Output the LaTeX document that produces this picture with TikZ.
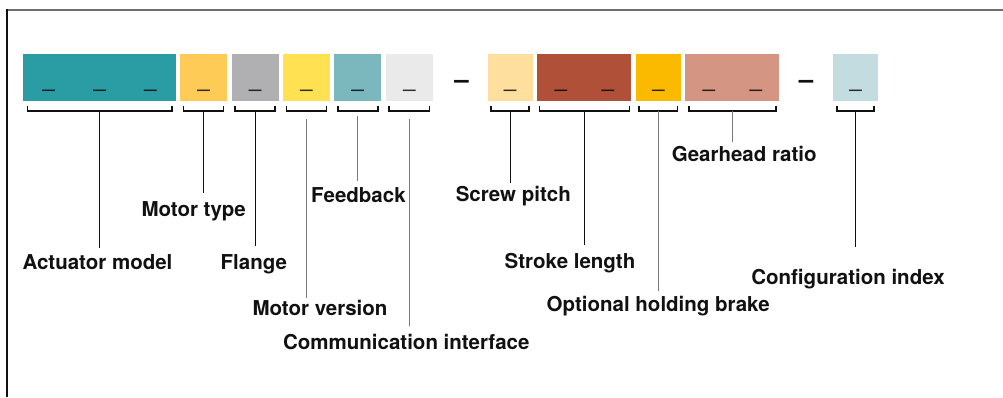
\documentclass[tikz,border=0pt]{standalone}
\usepackage{fontspec}
\setmainfont{TeX Gyre Heros}
\usetikzlibrary{calc}

\definecolor{txt}{HTML}{111111}
\definecolor{leadgray}{HTML}{7A7A7A}
\definecolor{cTeal}{HTML}{2A9CA3}
\definecolor{cMotor}{HTML}{FECB57}
\definecolor{cFlange}{HTML}{B0B0B2}
\definecolor{cVersion}{HTML}{FFE152}
\definecolor{cFeed}{HTML}{7AB8BE}
\definecolor{cComm}{HTML}{EAEAEA}
\definecolor{cScrew}{HTML}{FFDF9E}
\definecolor{cStroke}{HTML}{B05039}
\definecolor{cBrake}{HTML}{FBBA00}
\definecolor{cGear}{HTML}{D49682}
\definecolor{cConfig}{HTML}{C2DCDF}

\tikzset{
  cell/.style={anchor=north west, minimum height=47pt, inner sep=0pt, outer sep=0pt,
    text height=19pt, text depth=0pt, text=black, text opacity=0.8,
    font=\fontsize{21.5}{24}\selectfont\bfseries},
  tag/.style={anchor=base, font=\fontsize{20.5}{24}\selectfont\bfseries, text=txt,
    text height=15pt, text depth=4pt, inner sep=6pt},
  brace/.style={line width=1.6pt, draw=txt},
  lead/.style={line width=0.9pt, draw=txt},
  leadg/.style={line width=1.4pt, draw=leadgray}
}

\begin{document}
\begin{tikzpicture}[x=1pt, y=-1pt]

    \useasboundingbox (0,0) rectangle (1003,397);

    % Frame
    \draw[line width=2pt, draw=leadgray!90!black] (6,9.5) -- (1003,9.5);
    \draw[line width=2pt, draw=txt] (6.5,9) -- (6.5,397);

    % Code cells
    \node[cell, fill=cTeal, minimum width=50.8pt] (am1) at (23.3,54) {\_};
    \node[cell, fill=cTeal, minimum width=50.8pt] (am2) at (74.1,54) {\_};
    \node[cell, fill=cTeal, minimum width=50.8pt] (am3) at (124.9,54) {\_};
    \node[cell, fill=cMotor, minimum width=47pt] (mt) at (180,54) {\_};
    \node[cell, fill=cFlange, minimum width=47pt] (fl) at (231.5,54) {\_};
    \node[cell, fill=cVersion, minimum width=47pt] (mv) at (282.8,54) {\_};
    \node[cell, fill=cFeed, minimum width=47pt] (fb) at (334.2,54) {\_};
    \node[cell, fill=cComm, minimum width=47.5pt] (ci) at (385.6,54) {\_};

    \node[anchor=base, font=\fontsize{26}{30}\selectfont\bfseries, text=txt] (dashA) at (461.5,88) {\textendash};

    \node[cell, fill=cScrew, minimum width=45pt] (sp) at (487.7,54) {\_};
    \node[cell, fill=cStroke, minimum width=47pt] (sl1) at (537.3,54) {\_};
    \node[cell, fill=cStroke, minimum width=47pt] (sl2) at (584.3,54) {\_};
    \node[cell, fill=cBrake, minimum width=45.3pt] (hb) at (635.7,54) {\_};
    \node[cell, fill=cGear, minimum width=47pt] (gr1) at (685.3,54) {\_};
    \node[cell, fill=cGear, minimum width=47pt] (gr2) at (732.3,54) {\_};

    \node[anchor=base, font=\fontsize{26}{30}\selectfont\bfseries, text=txt] (dashB) at (806,88) {\textendash};

    \node[cell, fill=cConfig, minimum width=44.4pt] (cx) at (833.3,54) {\_};

    % Brackets under the cells
    \draw[brace] ($(am1.south west)+(4,5)$) |- ($(am3.south east)+(-4,9.7)$) -- ++(0,-4.7);
    \draw[brace] ($(mt.south west)+(3.5,5)$) |- ($(mt.south east)+(-3.5,9.7)$) -- ++(0,-4.7);
    \draw[brace] ($(fl.south west)+(3.5,5)$) |- ($(fl.south east)+(-3.5,9.7)$) -- ++(0,-4.7);
    \draw[brace] ($(mv.south west)+(3.5,5)$) |- ($(mv.south east)+(-3.5,9.7)$) -- ++(0,-4.7);
    \draw[brace] ($(fb.south west)+(3.5,5)$) |- ($(fb.south east)+(-3.5,9.7)$) -- ++(0,-4.7);
    \draw[brace] ($(ci.south west)+(3.5,5)$) |- ($(ci.south east)+(-3.5,9.7)$) -- ++(0,-4.7);
    \draw[brace] ($(sp.south west)+(3.5,5)$) |- ($(sp.south east)+(-3.5,9.7)$) -- ++(0,-4.7);
    \draw[brace] ($(sl1.south west)+(2,5)$) |- ($(sl2.south east)+(-2,9.7)$) -- ++(0,-4.7);
    \draw[brace] ($(hb.south west)+(3.5,5)$) |- ($(hb.south east)+(-3.5,9.7)$) -- ++(0,-4.7);
    \draw[brace] ($(gr1.south west)+(3.5,5)$) |- ($(gr2.south east)+(-3.5,9.7)$) -- ++(0,-4.7);
    \draw[brace] ($(cx.south west)+(3.5,5)$) |- ($(cx.south east)+(-3.5,9.7)$) -- ++(0,-4.7);

    \coordinate (amB) at ($(am1.south west)!0.5!(am3.south east)+(0,9.7)$);
    \coordinate (mtB) at ($(mt.south)+(0,9.7)$);
    \coordinate (flB) at ($(fl.south)+(0,9.7)$);
    \coordinate (mvB) at ($(mv.south)+(0,18.3)$);
    \coordinate (fbB) at ($(fb.south)+(0,15)$);
    \coordinate (ciB) at ($(ci.south)+(0,18.3)$);
    \coordinate (spB) at ($(sp.south)+(0,9.7)$);
    \coordinate (slB) at ($(sl1.south west)!0.5!(sl2.south east)+(0,9.7)$);
    \coordinate (hbB) at ($(hb.south)+(0,9.7)$);
    \coordinate (grB) at ($(gr1.south west)!0.5!(gr2.south east)+(0,9.7)$);
    \coordinate (cxB) at ($(cx.south)+(0,9.7)$);

    % Labels
    \node[tag] (actuator) at (97.5,269.3) {Actuator model};
    \node[tag] (motortype) at (193.7,216) {Motor type};
    \node[tag] (flange) at (253.8,269.3) {Flange};
    \node[tag] (motorver) at (320,315.3) {Motor version};
    \node[tag] (feedback) at (358.5,202.3) {Feedback};
    \node[tag] (comm) at (406.3,349) {Communication interface};
    \node[tag] (screw) at (513.3,201.7) {Screw pitch};
    \node[tag] (stroke) at (570,268.7) {Stroke length};
    \node[tag] (brake) at (658.2,311.7) {Optional holding brake};
    \node[tag] (gearhead) at (744.2,161) {Gearhead ratio};
    \node[tag] (config) at (848,284) {Configuration index};

    % Leader lines
    \draw[lead] (amB) -- (amB |- actuator.north);
    \draw[lead, shorten >=1.5pt] (mtB) -- (mtB |- motortype.north);
    \draw[lead, shorten >=2.5pt] (flB) -- (flB |- flange.north);
    \draw[leadg, shorten >=-3.5pt] (mvB) -- (mvB |- motorver.north);
    \draw[leadg] (fbB) -- (fbB |- feedback.north);
    \draw[leadg, shorten >=2pt] (ciB) -- (ciB |- comm.north);
    \draw[lead, shorten >=-2.5pt] (spB) -- (spB |- screw.north);
    \draw[lead, shorten >=3pt] (slB) -- (slB |- stroke.north);
    \draw[leadg] (hbB) -- (hbB |- brake.north);
    \draw[leadg, shorten >=-2.5pt] (grB) -- (grB |- gearhead.north);
    \draw[lead, shorten >=16pt] (cxB) -- (cxB |- config.north);

\end{tikzpicture}
\end{document}
